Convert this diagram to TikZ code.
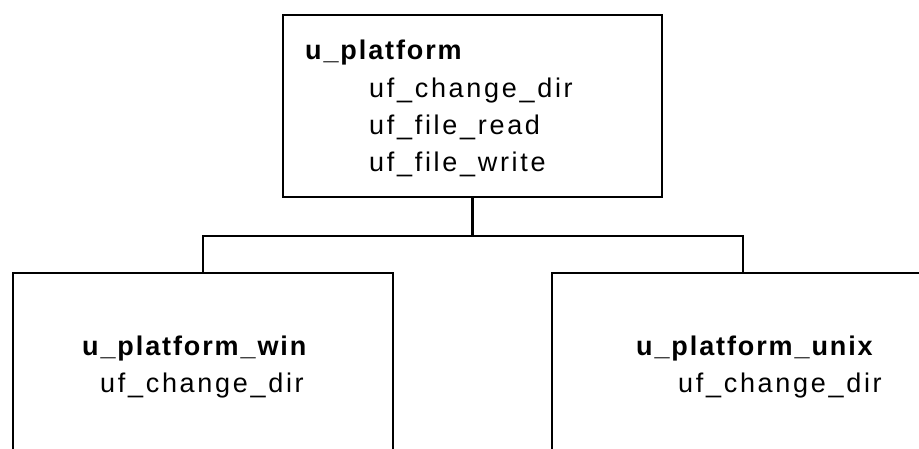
\documentclass[tikz,border=0pt]{standalone}
\usepackage{fontspec}
\setmainfont{Liberation Sans}
\newfontfamily\methodfont[LetterSpace=10]{Liberation Sans}
\newfontfamily\namefont[LetterSpace=7]{Liberation Sans Bold}
\usetikzlibrary{positioning}
\tikzset{
  classbox/.style={draw, line width=2.2pt, inner sep=0pt},
  classname/.style={anchor=base west, inner sep=0pt, font=\fontsize{27}{32}\selectfont\namefont},
  method/.style={anchor=base west, inner sep=0pt, font=\fontsize{27}{32}\selectfont\methodfont},
  link/.style={line width=2.2pt}
}

\begin{document}
\begin{tikzpicture}[x=1pt, y=-1pt]
  \clip (0,0) rectangle (919,448);
  % class boxes
  \node[classbox, minimum width=379, minimum height=182] (base) at (472.5,106) {};
  \node[classbox, minimum width=380, minimum height=200] (win) at (203,373) {};
  \node[classbox, minimum width=382, minimum height=200] (unix) at (743,373) {};
  % base class
  \node[classname] (basename) at (305,59) {u\_platform};
  \node[method] (basechdir) at (369,97) {uf\_change\_dir};
  \node[method] (baseread) at (369,134) {uf\_file\_read};
  \node[method] (basewrite) at (369,171) {uf\_file\_write};
  % derived classes
  \node[classname] (winname) at (82,355) {u\_platform\_win};
  \node[method] (winchdir) at (100,392) {uf\_change\_dir};
  \node[classname] (unixname) at (636,355) {u\_platform\_unix};
  \node[method] (unixchdir) at (678,392) {uf\_change\_dir};
  % tree lines
  \draw[link] (base.south) -- ++(0,38) coordinate (fork);
  \draw[link] (fork) -| (win.north);
  \draw[link] (fork) -| (unix.north);
\end{tikzpicture}
\end{document}
